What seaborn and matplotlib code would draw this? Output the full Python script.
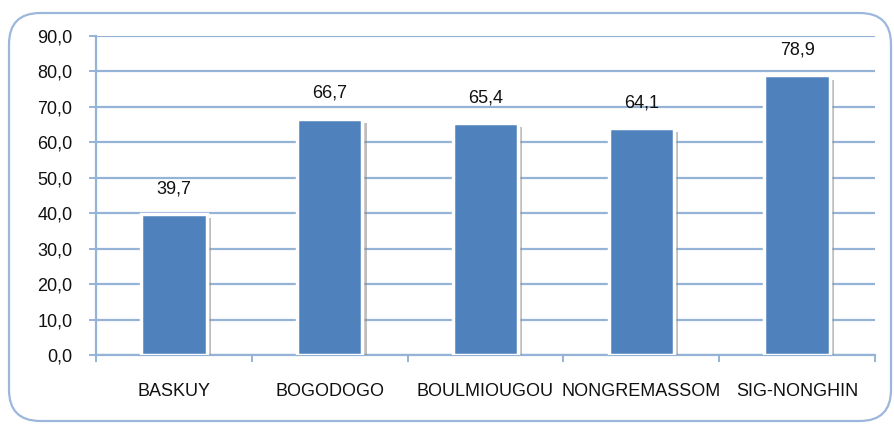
import matplotlib
matplotlib.use("Agg")
import matplotlib.pyplot as plt
import matplotlib.patheffects as pe
from matplotlib.patches import FancyBboxPatch
from matplotlib.ticker import FuncFormatter, FixedLocator
import seaborn as sns
import pandas as pd

districts = ["BASKUY", "BOGODOGO", "BOULMIOUGOU", "NONGREMASSOM", "SIG-NONGHIN"]
rates = [39.7, 66.7, 65.4, 64.1, 78.9]
y_ticks = [0, 10, 20, 30, 40, 50, 60, 70, 80, 90]

sns.set_theme(style="white")
plt.rcParams["font.family"] = ["Liberation Sans Narrow", "Liberation Sans", "DejaVu Sans"]

BAR = "#4f81bd"
GRID = "#95b3d7"

fig = plt.figure(figsize=(8.94, 4.24), dpi=100)
fig.patch.set_facecolor("white")

# rounded chart-area frame
frame = FancyBboxPatch((9 / 894, 3 / 424), 882 / 894, 408 / 424,
                       boxstyle="round,pad=0,rounding_size=0.035",
                       transform=fig.transFigure, facecolor="white",
                       edgecolor="#9db7dc", linewidth=1.6, zorder=0,
                       mutation_aspect=894 / 424)
fig.patches.append(frame)

ax = fig.add_axes([96 / 894, 69 / 424, 779 / 894, 319 / 424])
ax.set_facecolor("none")
ax.set_zorder(2)

df = pd.DataFrame({"district": districts, "rate": rates})
sns.barplot(data=df, x="district", y="rate", color=BAR, saturation=1,
            width=0.42, edgecolor="white", linewidth=2.5, ax=ax, zorder=3)

for patch in ax.patches:
    patch.set_path_effects([
        pe.SimplePatchShadow(offset=(3, -3), shadow_rgbFace="#8a8a8a", alpha=0.55),
        pe.Normal(),
    ])

for i, v in enumerate(rates):
    ax.annotate(f"{v:.1f}".replace(".", ","), (i, v), xytext=(0, 12),
                textcoords="offset points", ha="center", va="bottom",
                fontsize=13, color="#111111", zorder=5)

ax.set_ylim(0, 90)
ax.set_xlim(-0.5, len(districts) - 0.5)
ax.yaxis.set_major_locator(FixedLocator(y_ticks))
ax.yaxis.set_major_formatter(FuncFormatter(lambda v, _: f"{v:.1f}".replace(".", ",")))
ax.yaxis.grid(True, color=GRID, linewidth=1.6, zorder=1)
ax.set_axisbelow(True)

ax.set_xlabel("")
ax.set_ylabel("")

for side in ("top", "right"):
    ax.spines[side].set_visible(False)
for side in ("left", "bottom"):
    ax.spines[side].set_color(GRID)
    ax.spines[side].set_linewidth(1.6)

ax.tick_params(axis="y", which="major", length=5, width=1.4, color=GRID,
               pad=12, labelsize=13, labelcolor="#111111", left=True)
ax.set_xticks(range(len(districts)))
ax.set_xticks([i - 0.5 for i in range(len(districts) + 1)], minor=True)
ax.tick_params(axis="x", which="major", length=0, pad=20, labelsize=13,
               labelcolor="#111111")
ax.tick_params(axis="x", which="minor", length=5, width=1.4, color=GRID,
               bottom=True, direction="out")

fig.savefig("out.png", dpi=100, facecolor="white")
